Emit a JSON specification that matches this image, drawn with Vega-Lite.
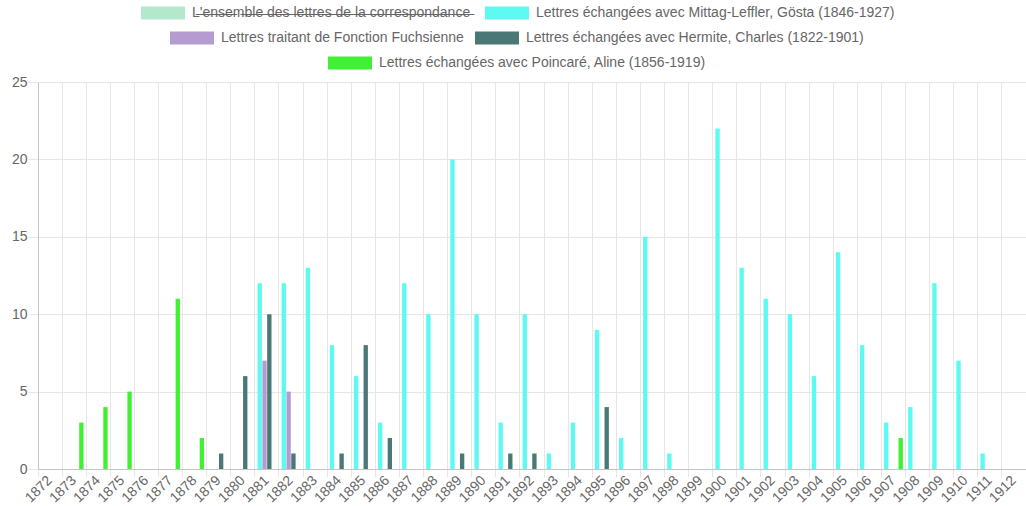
{
  "$schema": "https://vega.github.io/schema/vega-lite/v6.json",
  "width": 988,
  "height": 387,
  "autosize": {"type": "none"},
  "padding": {"left": 38, "top": 82, "right": 0, "bottom": 37},
  "background": "white",
  "config": {
    "font": "Liberation Sans",
    "view": {"stroke": null},
    "legend": {
      "orient": "none",
      "direction": "horizontal",
      "columns": 2,
      "title": null,
      "symbolType": "M-1,-0.3H1V0.3H-1Z",
      "symbolSize": 1936,
      "symbolStrokeWidth": 0,
      "symbolOpacity": 1,
      "labelFontSize": 14,
      "labelColor": "#666666",
      "labelOffset": 7,
      "columnPadding": 14,
      "labelLimit": 600,
      "padding": 0
    }
  },
  "data": {
    "values": [
      {"year": 1881, "series": "Lettres échangées avec Mittag-Leffler, Gösta (1846-1927)", "letters": 12},
      {"year": 1882, "series": "Lettres échangées avec Mittag-Leffler, Gösta (1846-1927)", "letters": 12},
      {"year": 1883, "series": "Lettres échangées avec Mittag-Leffler, Gösta (1846-1927)", "letters": 13},
      {"year": 1884, "series": "Lettres échangées avec Mittag-Leffler, Gösta (1846-1927)", "letters": 8},
      {"year": 1885, "series": "Lettres échangées avec Mittag-Leffler, Gösta (1846-1927)", "letters": 6},
      {"year": 1886, "series": "Lettres échangées avec Mittag-Leffler, Gösta (1846-1927)", "letters": 3},
      {"year": 1887, "series": "Lettres échangées avec Mittag-Leffler, Gösta (1846-1927)", "letters": 12},
      {"year": 1888, "series": "Lettres échangées avec Mittag-Leffler, Gösta (1846-1927)", "letters": 10},
      {"year": 1889, "series": "Lettres échangées avec Mittag-Leffler, Gösta (1846-1927)", "letters": 20},
      {"year": 1890, "series": "Lettres échangées avec Mittag-Leffler, Gösta (1846-1927)", "letters": 10},
      {"year": 1891, "series": "Lettres échangées avec Mittag-Leffler, Gösta (1846-1927)", "letters": 3},
      {"year": 1892, "series": "Lettres échangées avec Mittag-Leffler, Gösta (1846-1927)", "letters": 10},
      {"year": 1893, "series": "Lettres échangées avec Mittag-Leffler, Gösta (1846-1927)", "letters": 1},
      {"year": 1894, "series": "Lettres échangées avec Mittag-Leffler, Gösta (1846-1927)", "letters": 3},
      {"year": 1895, "series": "Lettres échangées avec Mittag-Leffler, Gösta (1846-1927)", "letters": 9},
      {"year": 1896, "series": "Lettres échangées avec Mittag-Leffler, Gösta (1846-1927)", "letters": 2},
      {"year": 1897, "series": "Lettres échangées avec Mittag-Leffler, Gösta (1846-1927)", "letters": 15},
      {"year": 1898, "series": "Lettres échangées avec Mittag-Leffler, Gösta (1846-1927)", "letters": 1},
      {"year": 1900, "series": "Lettres échangées avec Mittag-Leffler, Gösta (1846-1927)", "letters": 22},
      {"year": 1901, "series": "Lettres échangées avec Mittag-Leffler, Gösta (1846-1927)", "letters": 13},
      {"year": 1902, "series": "Lettres échangées avec Mittag-Leffler, Gösta (1846-1927)", "letters": 11},
      {"year": 1903, "series": "Lettres échangées avec Mittag-Leffler, Gösta (1846-1927)", "letters": 10},
      {"year": 1904, "series": "Lettres échangées avec Mittag-Leffler, Gösta (1846-1927)", "letters": 6},
      {"year": 1905, "series": "Lettres échangées avec Mittag-Leffler, Gösta (1846-1927)", "letters": 14},
      {"year": 1906, "series": "Lettres échangées avec Mittag-Leffler, Gösta (1846-1927)", "letters": 8},
      {"year": 1907, "series": "Lettres échangées avec Mittag-Leffler, Gösta (1846-1927)", "letters": 3},
      {"year": 1908, "series": "Lettres échangées avec Mittag-Leffler, Gösta (1846-1927)", "letters": 4},
      {"year": 1909, "series": "Lettres échangées avec Mittag-Leffler, Gösta (1846-1927)", "letters": 12},
      {"year": 1910, "series": "Lettres échangées avec Mittag-Leffler, Gösta (1846-1927)", "letters": 7},
      {"year": 1911, "series": "Lettres échangées avec Mittag-Leffler, Gösta (1846-1927)", "letters": 1},
      {"year": 1881, "series": "Lettres traitant de Fonction Fuchsienne", "letters": 7},
      {"year": 1882, "series": "Lettres traitant de Fonction Fuchsienne", "letters": 5},
      {"year": 1879, "series": "Lettres échangées avec Hermite, Charles (1822-1901)", "letters": 1},
      {"year": 1880, "series": "Lettres échangées avec Hermite, Charles (1822-1901)", "letters": 6},
      {"year": 1881, "series": "Lettres échangées avec Hermite, Charles (1822-1901)", "letters": 10},
      {"year": 1882, "series": "Lettres échangées avec Hermite, Charles (1822-1901)", "letters": 1},
      {"year": 1884, "series": "Lettres échangées avec Hermite, Charles (1822-1901)", "letters": 1},
      {"year": 1885, "series": "Lettres échangées avec Hermite, Charles (1822-1901)", "letters": 8},
      {"year": 1886, "series": "Lettres échangées avec Hermite, Charles (1822-1901)", "letters": 2},
      {"year": 1889, "series": "Lettres échangées avec Hermite, Charles (1822-1901)", "letters": 1},
      {"year": 1891, "series": "Lettres échangées avec Hermite, Charles (1822-1901)", "letters": 1},
      {"year": 1892, "series": "Lettres échangées avec Hermite, Charles (1822-1901)", "letters": 1},
      {"year": 1895, "series": "Lettres échangées avec Hermite, Charles (1822-1901)", "letters": 4},
      {"year": 1873, "series": "Lettres échangées avec Poincaré, Aline (1856-1919)", "letters": 3},
      {"year": 1874, "series": "Lettres échangées avec Poincaré, Aline (1856-1919)", "letters": 4},
      {"year": 1875, "series": "Lettres échangées avec Poincaré, Aline (1856-1919)", "letters": 5},
      {"year": 1877, "series": "Lettres échangées avec Poincaré, Aline (1856-1919)", "letters": 11},
      {"year": 1878, "series": "Lettres échangées avec Poincaré, Aline (1856-1919)", "letters": 2},
      {"year": 1907, "series": "Lettres échangées avec Poincaré, Aline (1856-1919)", "letters": 2}
    ]
  },
  "encoding": {
    "x": {
      "field": "year",
      "type": "ordinal",
      "scale": {
        "domain": [1872, 1873, 1874, 1875, 1876, 1877, 1878, 1879, 1880, 1881, 1882, 1883, 1884, 1885, 1886, 1887, 1888, 1889, 1890, 1891, 1892, 1893, 1894, 1895, 1896, 1897, 1898, 1899, 1900, 1901, 1902, 1903, 1904, 1905, 1906, 1907, 1908, 1909, 1910, 1911, 1912],
        "paddingInner": 0,
        "paddingOuter": 0
      },
      "axis": {
        "title": null,
        "bandPosition": 0,
        "labelOffset": 0,
        "labelAngle": -45,
        "labelAlign": "right",
        "labelBaseline": "middle",
        "labelOverlap": false,
        "labelFontSize": 14,
        "labelColor": "#666666",
        "labelPadding": 1,
        "grid": true,
        "gridColor": "#e6e6e6",
        "tickColor": "#e6e6e6",
        "tickSize": 8,
        "domainColor": "#c4c4c4"
      }
    },
    "xOffset": {
      "field": "series",
      "type": "nominal",
      "scale": {
        "domain": [
          "Lettres échangées avec Mittag-Leffler, Gösta (1846-1927)",
          "Lettres traitant de Fonction Fuchsienne",
          "Lettres échangées avec Hermite, Charles (1822-1901)",
          "Lettres échangées avec Poincaré, Aline (1856-1919)"
        ],
        "paddingInner": 0.1,
        "paddingOuter": 0.55
      }
    },
    "y": {
      "field": "letters",
      "type": "quantitative",
      "scale": {"domain": [0, 25]},
      "axis": {
        "title": null,
        "values": [0, 5, 10, 15, 20, 25],
        "labelFontSize": 14,
        "labelColor": "#666666",
        "labelPadding": 1,
        "grid": true,
        "gridColor": "#e6e6e6",
        "tickColor": "#e6e6e6",
        "tickSize": 10,
        "domainColor": "#c4c4c4"
      }
    }
  },
  "layer": [
    {
      "transform": [{"filter": {"field": "series", "oneOf": ["L'ensemble des lettres de la correspondance", "Lettres échangées avec Mittag-Leffler, Gösta (1846-1927)"]}}],
      "mark": {"type": "bar"},
      "encoding": {
        "color": {
          "field": "series",
          "type": "nominal",
          "scale": {
            "domain": ["L'ensemble des lettres de la correspondance", "Lettres échangées avec Mittag-Leffler, Gösta (1846-1927)"],
            "range": ["#b3e8cd", "#5cfaf0"]
          },
          "legend": {
            "legendX": 103,
            "legendY": -91,
            "labelExpr": "indexof(datum.label, 'ensemble') > 0 ? replace(datum.label, regexp('(.)', 'g'), '$1\u0336') : datum.label"
          }
        }
      }
    },
    {
      "transform": [{"filter": {"field": "series", "oneOf": ["Lettres traitant de Fonction Fuchsienne", "Lettres échangées avec Hermite, Charles (1822-1901)"]}}],
      "mark": {"type": "bar"},
      "encoding": {
        "color": {
          "field": "series",
          "type": "nominal",
          "scale": {
            "domain": ["Lettres traitant de Fonction Fuchsienne", "Lettres échangées avec Hermite, Charles (1822-1901)"],
            "range": ["#b49bd0", "#4a7875"]
          },
          "legend": {"legendX": 132, "legendY": -66, "columnPadding": 11}
        }
      }
    },
    {
      "transform": [{"filter": {"field": "series", "equal": "Lettres échangées avec Poincaré, Aline (1856-1919)"}}],
      "mark": {"type": "bar"},
      "encoding": {
        "color": {
          "field": "series",
          "type": "nominal",
          "scale": {
            "domain": ["Lettres échangées avec Poincaré, Aline (1856-1919)"],
            "range": ["#40f032"]
          },
          "legend": {"legendX": 290, "legendY": -41}
        }
      }
    }
  ],
  "resolve": {"scale": {"color": "independent"}, "legend": {"color": "independent"}}
}
